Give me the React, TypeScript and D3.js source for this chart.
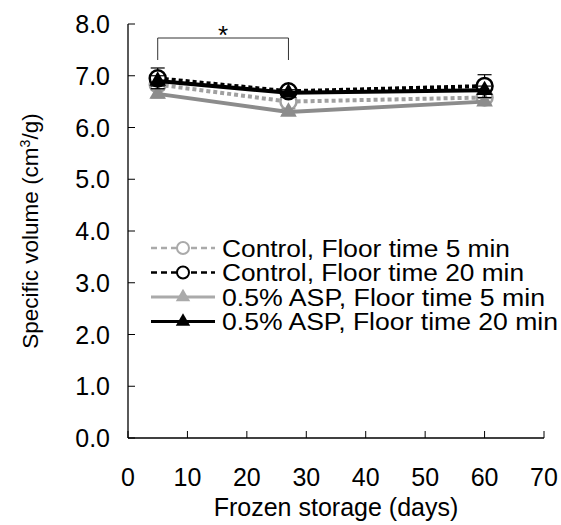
import React, { useEffect, useRef } from "react";
import * as d3 from "d3";

const days = [5, 27, 60];
const control5 = [6.83, 6.5, 6.58];
const control20 = [6.95, 6.7, 6.8];
const asp5 = [6.65, 6.3, 6.5];
const asp20 = [6.9, 6.67, 6.72];
const control5Err = [0.1, 0.08, 0.1];
const control20Err = [0.2, 0.08, 0.22];
const asp5Err = [0.08, 0.06, 0.06];
const asp20Err = [0.1, 0.06, 0.08];
const seriesNames = [
  "Control, Floor time 5 min",
  "Control, Floor time 20 min",
  "0.5% ASP, Floor time 5 min",
  "0.5% ASP, Floor time 20 min",
];
const xTicks = [0, 10, 20, 30, 40, 50, 60, 70];
const yTicks = [0, 1, 2, 3, 4, 5, 6, 7, 8];

export default function App() {
  const ref = useRef<SVGSVGElement>(null);
  useEffect(() => {
    const svg = d3.select(ref.current);
    svg.selectAll("*").remove();
    const font = "'Liberation Sans', Arial, sans-serif";
    const fs = 25;
    const x = d3.scaleLinear().domain([0, 70]).range([128, 544]);
    const y = d3.scaleLinear().domain([0, 8]).range([438, 24]);

    const g = svg.append("g");
    g.append("line").attr("x1", x(0)).attr("x2", x(70)).attr("y1", y(0)).attr("y2", y(0)).attr("stroke", "#000").attr("stroke-width", 1.3);
    g.append("line").attr("x1", x(0)).attr("x2", x(0)).attr("y1", y(0)).attr("y2", y(8)).attr("stroke", "#000").attr("stroke-width", 1.3);
    xTicks.forEach((t) => {
      g.append("line").attr("x1", x(t)).attr("x2", x(t)).attr("y1", y(0)).attr("y2", y(0) - 7).attr("stroke", "#000").attr("stroke-width", 1);
      g.append("text").attr("x", x(t)).attr("y", 486).attr("text-anchor", "middle").attr("font-family", font).attr("font-size", fs).text(String(t));
    });
    yTicks.forEach((t) => {
      g.append("line").attr("x1", x(0)).attr("x2", x(0) + 7).attr("y1", y(t)).attr("y2", y(t)).attr("stroke", "#000").attr("stroke-width", 1);
      g.append("text").attr("x", 110).attr("y", y(t) + 9).attr("text-anchor", "end").attr("font-family", font).attr("font-size", fs).text(t.toFixed(1));
    });
    g.append("text").attr("x", 336).attr("y", 516).attr("text-anchor", "middle").attr("font-family", font).attr("font-size", fs).text("Frozen storage (days)");
    const yl = g.append("text").attr("transform", "translate(38,231) rotate(-90)").attr("text-anchor", "middle").attr("font-family", font).attr("font-size", 22.5);
    yl.append("tspan").text("Specific volume (cm");
    yl.append("tspan").attr("font-size", 14).attr("dy", -8).text("3");
    yl.append("tspan").attr("dy", 8).text("/g)");

    g.append("path")
      .attr("d", `M${x(5)},60 V38 H${x(27)} V60`)
      .attr("fill", "none").attr("stroke", "#333").attr("stroke-width", 1);
    g.append("text").attr("x", (x(5) + x(27)) / 2).attr("y", 44).attr("text-anchor", "middle").attr("font-family", font).attr("font-size", 26).text("*");

    const series = [
      { vals: control5, err: control5Err, color: "#a0a0a0", dash: "4,3", width: 4, marker: "circle", legendDash: "6,4", legendColor: "#aaaaaa" },
      { vals: asp5, err: asp5Err, color: "#8c8c8c", dash: null, width: 4, marker: "triangle", legendDash: null, legendColor: "#aaaaaa" },
      { vals: control20, err: control20Err, color: "#000", dash: "4,3", width: 4, marker: "circle", legendDash: "6,4", legendColor: "#000" },
      { vals: asp20, err: asp20Err, color: "#000", dash: null, width: 4, marker: "triangle", legendDash: null, legendColor: "#000" },
    ];
    const line = d3.line<number>().x((_, i) => x(days[i])).y((d) => y(d));
    const tri = d3.symbol().type(d3.symbolTriangle).size(120);

    series.forEach((s) => {
      const sg = svg.append("g");
      s.vals.forEach((v, i) => {
        const cx = x(days[i]);
        sg.append("line").attr("x1", cx).attr("x2", cx).attr("y1", y(v - s.err[i])).attr("y2", y(v + s.err[i])).attr("stroke", s.color).attr("stroke-width", 1.2);
        [v - s.err[i], v + s.err[i]].forEach((e) => {
          sg.append("line").attr("x1", cx - 7).attr("x2", cx + 7).attr("y1", y(e)).attr("y2", y(e)).attr("stroke", s.color).attr("stroke-width", 1.2);
        });
      });
      sg.append("path").attr("d", line(s.vals)).attr("fill", "none").attr("stroke", s.color).attr("stroke-width", s.width).attr("stroke-dasharray", s.dash);
      s.vals.forEach((v, i) => {
        if (s.marker === "circle") {
          sg.append("circle").attr("cx", x(days[i])).attr("cy", y(v)).attr("r", 8).attr("fill", "#fff").attr("stroke", s.color).attr("stroke-width", 2.5);
        } else {
          sg.append("path").attr("d", tri()).attr("transform", `translate(${x(days[i])},${y(v)})`).attr("fill", s.color);
        }
      });
    });

    const legendOrder = [series[0], series[2], series[1], series[3]];
    const legendWidths = [288, 302, 323, 336];
    legendOrder.forEach((s, i) => {
      const ly = 248 + i * 24.5;
      const lg = svg.append("g");
      lg.append("line").attr("x1", 151).attr("x2", 215).attr("y1", ly).attr("y2", ly).attr("stroke", s.legendColor).attr("stroke-width", s.dash ? 2.5 : 3).attr("stroke-dasharray", s.legendDash);
      if (s.marker === "circle") {
        lg.append("circle").attr("cx", 183).attr("cy", ly).attr("r", 6).attr("fill", "#fff").attr("stroke", s.legendColor).attr("stroke-width", 2);
      } else {
        lg.append("path").attr("d", d3.symbol().type(d3.symbolTriangle).size(90)()).attr("transform", `translate(183,${ly})`).attr("fill", s.legendColor);
      }
      lg.append("text").attr("x", 222).attr("y", ly + 8.5).attr("font-family", font).attr("font-size", 23.5)
        .attr("textLength", legendWidths[i]).attr("lengthAdjust", "spacingAndGlyphs").text(seriesNames[i]);
    });
  }, []);
  return <svg ref={ref} width={561} height={525} style={{ position: "absolute", left: 0, top: 0 }} />;
}
